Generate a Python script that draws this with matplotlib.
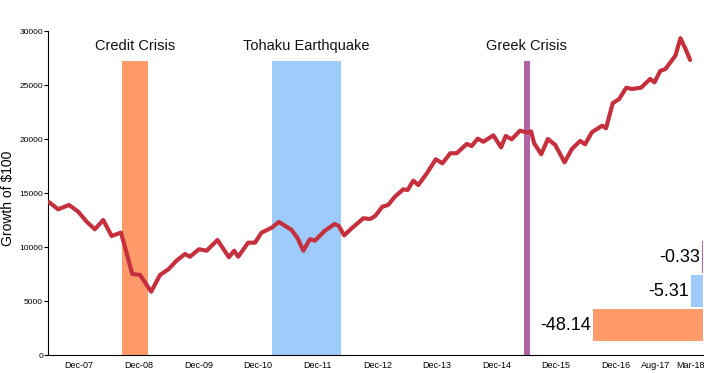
import pandas as pd
import matplotlib
matplotlib.use("Agg")
import matplotlib.pyplot as plt

plt.rcParams['font.family'] = ['Liberation Sans', 'DejaVu Sans']

# =========================================
# DATA
# =========================================

dates = [
    "2007-06-01", "2007-07-26", "2007-10-01", "2007-11-26", "2008-01-17", "2008-03-07",
    "2008-04-27", "2008-06-18", "2008-08-14", "2008-09-18", "2008-10-22", "2008-12-09",
    "2009-02-15", "2009-04-10", "2009-06-01", "2009-07-20", "2009-09-10", "2009-10-10",
    "2009-12-05", "2010-01-21", "2010-03-28", "2010-06-06", "2010-07-08", "2010-08-02",
    "2010-10-02", "2010-11-13", "2010-12-23", "2011-02-24", "2011-04-08", "2011-06-25",
    "2011-08-01", "2011-09-05", "2011-10-15", "2011-11-15", "2012-01-15", "2012-03-15",
    "2012-04-09", "2012-05-12", "2012-06-27", "2012-09-07", "2012-10-18", "2012-11-18",
    "2013-01-01", "2013-02-05", "2013-03-19", "2013-05-09", "2013-06-05", "2013-07-09",
    "2013-08-09", "2013-10-01", "2013-11-24", "2014-01-04", "2014-02-21", "2014-04-01",
    "2014-06-02", "2014-07-02", "2014-08-08", "2014-09-12", "2014-11-12", "2014-12-29",
    "2015-01-27", "2015-03-04", "2015-04-24", "2015-06-04", "2015-07-01", "2015-07-20",
    "2015-09-01", "2015-10-12", "2015-11-26", "2016-01-22", "2016-03-07", "2016-04-27",
    "2016-05-27", "2016-07-07", "2016-09-08", "2016-10-02", "2016-11-12", "2016-12-22",
    "2017-02-03", "2017-03-09", "2017-05-05", "2017-06-29", "2017-07-26", "2017-08-30",
    "2017-10-01", "2017-12-01", "2018-01-01", "2018-02-01", "2018-03-01",
]

growth = [
    14150, 13490, 13890, 13270, 12340, 11640,
    12500, 11020, 11330, 9420, 7500, 7410,
    5860, 7410, 7940, 8730, 9350, 9100,
    9790, 9660, 10650, 9050, 9660, 9100,
    10400, 10400, 11330, 11790, 12320, 11580,
    10810, 9660, 10710, 10590, 11510, 12130,
    11950, 11080, 11730, 12660, 12590, 12870,
    13730, 13890, 14660, 15340, 15280, 16140,
    15740, 16830, 18120, 17750, 18680, 18680,
    19540, 19350, 20030, 19750, 20340, 19230,
    20280, 19970, 20770, 20600, 20700, 19600,
    18590, 20000, 19450, 17840, 19080, 19820,
    19510, 20620, 21230, 20990, 23310, 23710,
    24750, 24630, 24750, 25560, 25250, 26300,
    26480, 27720, 29330, 28340, 27320,
]

events = ["Credit Crisis", "Tohaku Earthquake", "Greek Crisis"]
event_start = ["2008-08-21", "2011-02-22", "2015-05-18"]
event_end = ["2009-01-28", "2012-04-23", "2015-06-24"]
event_colors = ["#ff9a6a", "#9fcbfa", "#b064a6"]
event_returns = [-48.14, -5.31, -0.33]

tick_dates = ["2007-12-01", "2008-12-01", "2009-12-01", "2010-12-01", "2011-12-01",
              "2012-12-01", "2013-12-01", "2014-12-01", "2015-12-01", "2016-12-01",
              "2017-08-01", "2018-03-01"]
tick_labels = ["Dec-07", "Dec-08", "Dec-09", "Dec-10", "Dec-11", "Dec-12",
               "Dec-13", "Dec-14", "Dec-15", "Dec-16", "Aug-17", "Mar-18"]

# =========================================
# MAIN CHART
# =========================================

W, H = 715, 373
fig = plt.figure(figsize=(W / 100, H / 100), dpi=100)
ax = fig.add_axes([48 / W, (H - 355) / H, (703 - 48) / W, (355 - 31) / H])

x = pd.to_datetime(dates)

band_top = 27200
for name, s, e, c in zip(events, event_start, event_end, event_colors):
    s = pd.Timestamp(s)
    e = pd.Timestamp(e)
    ax.fill_between([s, e], 0, band_top, color=c, lw=0, zorder=1)
    mid = s + (e - s) / 2
    ax.text(mid, 28600, name, ha="center", va="center", fontsize=10.5, color="#111111")

ax.plot(x, growth, color="#c5303e", lw=3, solid_joinstyle="round",
        solid_capstyle="round", zorder=3)

ax.set_xlim(pd.Timestamp("2007-05-25"), pd.Timestamp("2018-05-19"))
ax.set_ylim(0, 30000)
ax.set_yticks(range(0, 30001, 5000))
ax.set_xticks(pd.to_datetime(tick_dates))
ax.set_xticklabels(tick_labels)
ax.tick_params(axis="x", length=0, labelsize=6.5, pad=4)
ax.tick_params(axis="y", length=3, labelsize=6, pad=0.5)
ax.set_ylabel("Growth of $100", fontsize=10)
ax.yaxis.set_label_coords(-0.05, 0.485)
ax.spines["top"].set_visible(False)
ax.spines["right"].set_visible(False)

# =========================================
# INSET BARS
# =========================================

inset = fig.add_axes([520 / W, (H - 342) / H, 183 / W, 102 / H])
pos = [0, 1, 2]
inset.barh(pos, event_returns, height=0.94, color=event_colors)
for p, v in zip(pos, event_returns):
    inset.text(v - 0.8, p, f"{v:.2f}", ha="right", va="center", fontsize=13)
inset.set_xlim(-80, 0)
inset.set_ylim(-0.5, 2.5)
inset.axis("off")

fig.savefig("out.png", dpi=100)
